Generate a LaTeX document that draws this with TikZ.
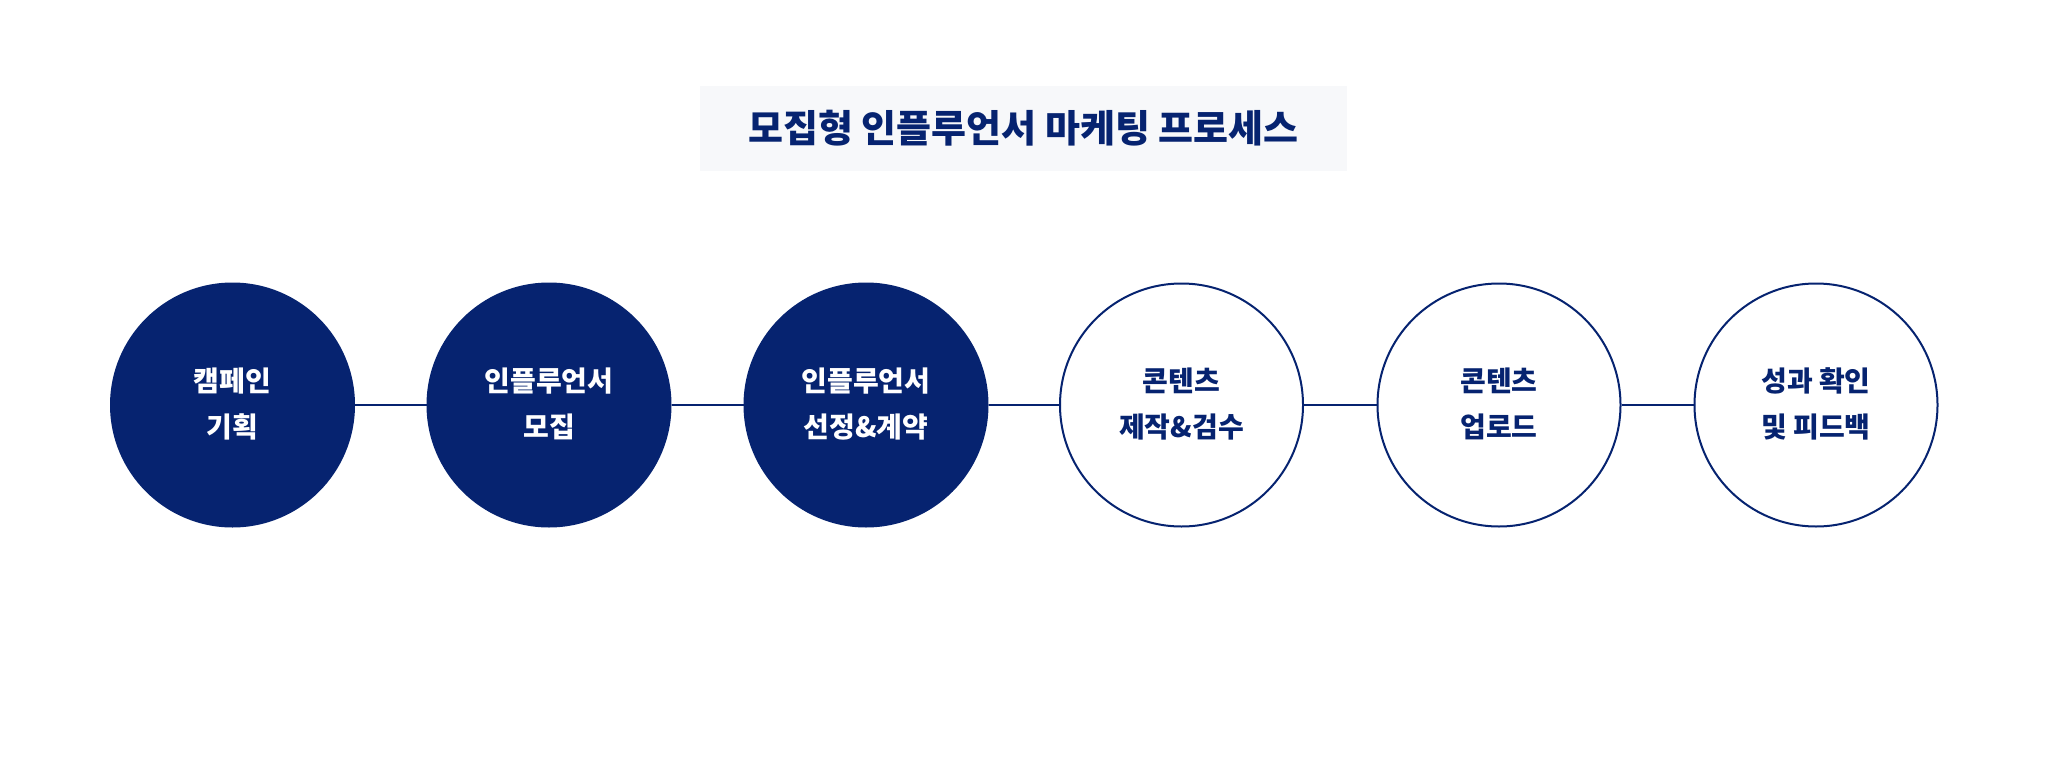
\documentclass[tikz,border=0pt]{standalone}
\usepackage{fontspec}
\newfontfamily\kr{Noto Sans CJK KR}
\definecolor{navy}{RGB}{6,35,112}
\definecolor{titlebg}{RGB}{247,248,250}
\newcommand\steptext[1]{\raisebox{-4pt}{\begin{tabular}{@{}c@{}}#1\end{tabular}}}
\tikzset{
  stepfill/.style={circle, fill=navy, draw=navy, line width=2pt, minimum size=243pt, inner sep=0pt,
    text=white, font=\kr\bfseries\fontsize{28}{46}\selectfont},
  stepopen/.style={circle, fill=white, draw=navy, line width=2pt, minimum size=243pt, inner sep=0pt,
    text=navy, font=\kr\bfseries\fontsize{28}{46}\selectfont},
  link/.style={draw=navy, line width=2pt},
  titlebox/.style={fill=titlebg, minimum width=647pt, minimum height=85pt, inner sep=0pt,
    text=navy, font=\kr\bfseries\fontsize{38}{44}\selectfont}
}
\begin{document}
\begin{tikzpicture}[x=1pt,y=-1pt]
\useasboundingbox (0,0) rectangle (2048,768);
\node[titlebox] (title) at (1023.5,128.5) {\raisebox{-2pt}{모집형 인플루언서 마케팅 프로세스}};
\node[stepfill] (s1) at (232.5,405) {\steptext{캠페인\\기획}};
\node[stepfill] (s2) at (549,405) {\steptext{인플루언서\\모집}};
\node[stepfill] (s3) at (866,405) {\steptext{인플루언서\\선정\&계약}};
\node[stepopen] (s4) at (1181.5,405) {\steptext{콘텐츠\\제작\&검수}};
\node[stepopen] (s5) at (1499,405) {\steptext{콘텐츠\\업로드}};
\node[stepopen] (s6) at (1816,405) {\steptext{성과 확인\\및 피드백}};
\draw[link] (s1) -- (s2);
\draw[link] (s2) -- (s3);
\draw[link] (s3) -- (s4);
\draw[link] (s4) -- (s5);
\draw[link] (s5) -- (s6);
\end{tikzpicture}
\end{document}
